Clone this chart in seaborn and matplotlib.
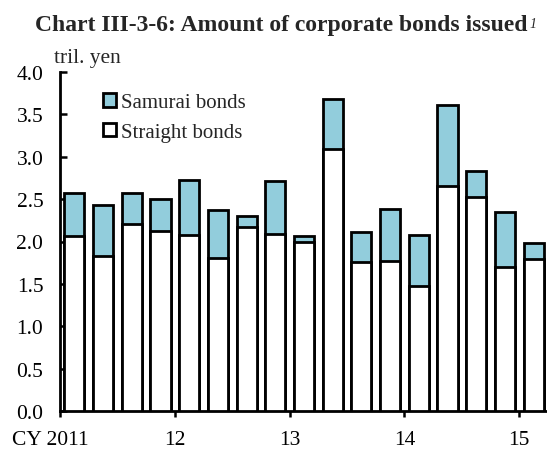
import matplotlib
matplotlib.use("Agg")
import matplotlib.pyplot as plt
import matplotlib.transforms as mtransforms
from matplotlib.patches import Patch
import seaborn as sns
import pandas as pd

# Quarterly issuance, CY2011 Q1 - CY2015 Q1 (tril. yen)
quarters = ["2011Q1", "2011Q2", "2011Q3", "2011Q4",
            "2012Q1", "2012Q2", "2012Q3", "2012Q4",
            "2013Q1", "2013Q2", "2013Q3", "2013Q4",
            "2014Q1", "2014Q2", "2014Q3", "2014Q4",
            "2015Q1"]
straight_bonds = [2.06, 1.83, 2.21, 2.12, 2.08, 1.81, 2.17, 2.09, 2.00,
                  3.09, 1.76, 1.77, 1.48, 2.65, 2.53, 1.70, 1.79]
samurai_bonds = [0.51, 0.60, 0.36, 0.38, 0.65, 0.56, 0.13, 0.62, 0.06,
                 0.59, 0.35, 0.61, 0.60, 0.96, 0.30, 0.65, 0.19]
year_labels = ["CY 2011", "12", "13", "14", "15"]
y_ticks = [0.0, 0.5, 1.0, 1.5, 2.0, 2.5, 3.0, 3.5, 4.0]

df = pd.DataFrame({"quarter": quarters,
                   "straight": straight_bonds,
                   "samurai": samurai_bonds})
df["total"] = df["straight"] + df["samurai"]

sns.set_style("white")
plt.rcParams["font.family"] = ["Liberation Serif", "DejaVu Serif"]

SAMURAI_COLOR = "#92CDDC"
EDGE_W = 2.0
FS = 15.5

fig = plt.figure(figsize=(5.47, 4.52), dpi=100)
ax = fig.add_axes([60 / 547, 40 / 452, 488 / 547, 339 / 452])

# Stacked bars: total (samurai on top) first, straight bonds drawn over it
sns.barplot(data=df, x="quarter", y="total", color=SAMURAI_COLOR,
            saturation=1, width=0.7, edgecolor="black", linewidth=EDGE_W,
            ax=ax, zorder=2)
sns.barplot(data=df, x="quarter", y="straight", color="white",
            saturation=1, width=0.7, edgecolor="black", linewidth=EDGE_W,
            ax=ax, zorder=3)

ax.set_xlim(-0.5, len(quarters) - 0.5)
ax.set_ylim(0, 4.0)
ax.set_xlabel("")
ax.set_ylabel("")

for side in ["top", "right"]:
    ax.spines[side].set_visible(False)
for side in ["left", "bottom"]:
    ax.spines[side].set_linewidth(2.0)
    ax.spines[side].set_color("black")

ax.set_yticks(y_ticks)
ax.set_yticklabels([f"{v:.1f}" for v in y_ticks])
ax.tick_params(axis="y", direction="in", length=5, width=1.8,
               labelsize=FS, pad=12, colors="black", left=True)

year_pos = [i * 4 - 0.5 for i in range(len(year_labels))]
ax.set_xticks(year_pos)
ax.set_xticklabels(year_labels)
ax.tick_params(axis="x", direction="out", length=4, width=1.8,
               labelsize=FS, pad=10, colors="black", bottom=True)
first = ax.get_xticklabels()[0]
first.set_transform(first.get_transform() +
                    mtransforms.ScaledTranslation(-10 / 100, 0, fig.dpi_scale_trans))

handles = [Patch(facecolor=SAMURAI_COLOR, edgecolor="black", linewidth=EDGE_W,
                 label="Samurai bonds"),
           Patch(facecolor="white", edgecolor="black", linewidth=EDGE_W,
                 label="Straight bonds")]
ax.legend(handles=handles, loc="upper left", bbox_to_anchor=(0.072, 0.962),
          frameon=False, fontsize=15, handlelength=0.62, handleheight=0.62,
          handletextpad=0.2, labelspacing=0.5, borderaxespad=0)

fig.text(54 / 547, 1 - 59 / 452, "tril. yen", fontsize=FS,
         ha="left", va="center")

title = fig.text(281 / 547, 1 - 26 / 452,
                 "Chart III-3-6: Amount of corporate bonds issued",
                 fontsize=17, fontweight="bold", ha="center", va="center")
fig.canvas.draw()
bb = title.get_window_extent()
fig.text((bb.x1 + 2) / fig.bbox.width, (bb.y1 - 2) / fig.bbox.height, "1",
         fontsize=10, fontstyle="italic", ha="left", va="top")

fig.savefig("out.png", dpi=100)
